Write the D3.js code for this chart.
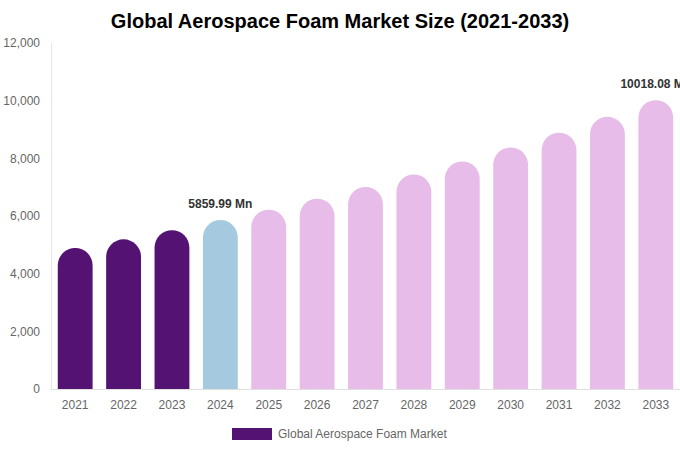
<!DOCTYPE html>
<html><head><meta charset="utf-8">
<script src="https://cdn.jsdelivr.net/npm/d3@7"></script>
<style>body{margin:0;background:#fff;}svg{display:block;font-family:"Liberation Sans",Arial,sans-serif;}</style>
</head><body><svg id="c" width="680" height="450"></svg>
<script>
const years = ["2021","2022","2023","2024","2025","2026","2027","2028","2029","2030","2031","2032","2033"];
const values = [4890, 5190, 5510, 5859.99, 6220, 6600, 7010, 7440, 7890, 8380, 8890, 9440, 10018.08];
const yTicks = [0, 2000, 4000, 6000, 8000, 10000, 12000];
const labelled = {"2024": "5859.99 Mn", "2033": "10018.08 Mn"};
const seriesName = "Global Aerospace Foam Market";

const svg = d3.select("#c");
const m = {l:51, r:680, t:43, b:389};
const x = d3.scaleBand().domain(years).range([m.l, m.r]).paddingInner(0.28).paddingOuter(0.14);
const y = d3.scaleLinear().domain([0, 12000]).range([m.b, m.t]);
const color = yr => +yr < 2024 ? "#541273" : (+yr === 2024 ? "#a5cadf" : "#e7bce8");

svg.append("text").attr("x", 340).attr("y", 28).attr("text-anchor","middle")
  .attr("font-size", 20).attr("font-weight","bold").attr("fill","#000")
  .text("Global Aerospace Foam Market Size (2021-2033)");

// axes lines
svg.append("line").attr("x1", m.l+0.5).attr("x2", m.l+0.5).attr("y1", m.t).attr("y2", m.b).attr("stroke","#e6e6e6");
svg.append("line").attr("x1", m.l).attr("x2", m.r).attr("y1", m.b+0.5).attr("y2", m.b+0.5).attr("stroke","#e0e0e0");

const yAxis = svg.append("g").attr("transform", `translate(${m.l},0)`)
  .call(d3.axisLeft(y).tickValues(yTicks).tickFormat(d3.format(",")).tickSize(0).tickPadding(11));
yAxis.select(".domain").remove();
yAxis.selectAll("text").attr("font-size", 12).attr("fill","#666").attr("font-family","Liberation Sans, Arial, sans-serif");

const xAxis = svg.append("g").attr("transform", `translate(0,${m.b})`)
  .call(d3.axisBottom(x).tickSize(0).tickPadding(11));
xAxis.select(".domain").remove();
xAxis.selectAll("text").attr("font-size", 12).attr("fill","#666").attr("font-family","Liberation Sans, Arial, sans-serif");

const bw = x.bandwidth(), r = bw/2;
svg.append("g").selectAll("path").data(years).join("path")
  .attr("fill", d => color(d))
  .attr("d", (d,i) => {
    const x0 = x(d), top = y(values[i]), bot = y(0);
    const rr = Math.min(r, bot-top);
    return `M${x0},${bot}V${top+rr}A${r},${rr} 0 0 1 ${x0+bw},${top+rr}V${bot}Z`;
  });

svg.append("g").selectAll("text").data(years.filter(d => labelled[d])).join("text")
  .attr("x", d => x(d) + bw/2)
  .attr("y", d => y(values[years.indexOf(d)]) - 12)
  .attr("text-anchor","middle").attr("font-size", 12).attr("font-weight","bold").attr("fill","#333")
  .text(d => labelled[d]);

// legend
svg.append("rect").attr("x", 232).attr("y", 428).attr("width", 40).attr("height", 12).attr("fill", "#541273");
svg.append("text").attr("x", 278).attr("y", 437.5).attr("font-size", 12).attr("fill","#666").text(seriesName);
</script></body></html>
